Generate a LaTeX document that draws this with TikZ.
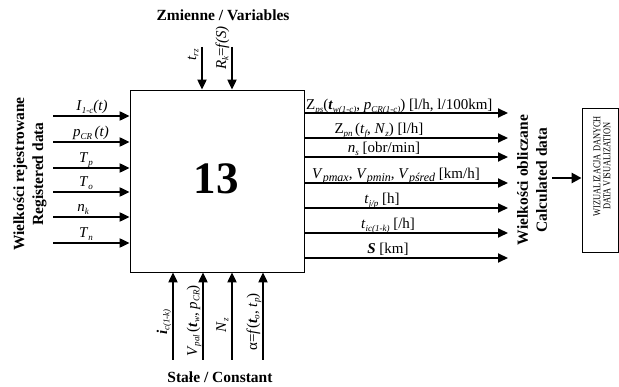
\documentclass[tikz,border=0pt]{standalone}
\usepackage{fontspec}
\usepackage{graphicx}
\setmainfont{Liberation Serif}
\usetikzlibrary{arrows.meta}
\newcommand{\lsub}[1]{\raisebox{-0.35ex}{\fontsize{9}{9}\selectfont\itshape #1}}
\newcommand{\msub}[1]{\raisebox{-0.3ex}{\fontsize{12}{12}\selectfont\itshape #1}}
\begin{document}
\begin{tikzpicture}[x=1pt,y=-1pt,
  arr/.style={line width=2pt,-{Triangle[length=10pt,width=9pt]}},
  lab/.style={font=\fontsize{15}{16}\selectfont,inner sep=0pt,anchor=base},
  vlab/.style={lab,rotate=90},
  ttl/.style={font=\fontsize{15.5}{19}\selectfont\bfseries,align=center,inner sep=0pt},
  vttl/.style={ttl,rotate=90}]
\useasboundingbox (0,0) rectangle (619,387);
% main box
\node[draw,line width=0.8pt,minimum width=174pt,minimum height=182pt,inner sep=0pt] (box) at (217,181) {};
\node[font=\fontsize{45}{45}\selectfont\bfseries,inner sep=0pt] (num) at (216,179) {13};
% titles
\node[ttl] (ttop) at (223,15) {Zmienne / Variables};
\node[ttl] (tbot) at (220,377) {Stałe / Constant};
\node[vttl] (tleft) at (30,174) {Wielkości rejestrowane\\Registered data};
\node[vttl] (tright) at (532,180) {Wielkości obliczane\\Calculated data};
% left inputs
\foreach \n/\y in {1/116,2/142,3/168,4/192,5/217,6/243}{
  \coordinate (L\n) at (53,\y);
  \draw[arr] (L\n) -- (L\n -| box.west);
}
\node[lab] (l1) at (92,111) {\textit{I}\lsub{1-c}\textit{(t)}};
\node[lab] (l2) at (91,137) {\textit{p}\lsub{CR}\,\textit{(t)}};
\node[lab] (l3) at (86,163) {\textit{T}\lsub{p}};
\node[lab] (l4) at (86,187) {\textit{T}\lsub{o}};
\node[lab] (l5) at (83,212) {\textit{n}\lsub{k}};
\node[lab] (l6) at (86,238) {\textit{T}\lsub{n}};
% top inputs
\coordinate (T1) at (202,47);
\coordinate (T2) at (232,47);
\draw[arr] (T1) -- (T1 |- box.north);
\draw[arr] (T2) -- (T2 |- box.north);
\node[vlab] (t1) at (196,55) {\textit{t}\lsub{rz}};
\node[vlab] (t2) at (226,48) {\textit{R}\lsub{k}=\textit{f(S)}};
% bottom inputs
\foreach \n/\x in {1/173,2/203,3/232,4/263}{
  \coordinate (B\n) at (\x,360);
  \draw[arr] (B\n) -- (B\n |- box.south);
}
\node[vlab] (b1) at (167,322) {\textbf{\textit{i}}\lsub{c(1-k)}};
\node[vlab] (b2) at (197,321) {\textit{V}\lsub{pal}\,(\textbf{\textit{t}}\lsub{w}, \textit{p}\lsub{CR})};
\node[vlab] (b3) at (226,325) {\textit{N}\lsub{z}};
\node[vlab] (b4) at (257,322) {α=\textit{f}(\textbf{\textit{t}}\lsub{o}, \textit{t}\lsub{p})};
% right outputs
\foreach \n/\y in {1/113,2/138,3/157,4/183,5/208,6/233,7/258}{
  \coordinate (R\n) at (508,\y);
  \draw[arr] (R\n -| box.east) -- (R\n);
}
\node[lab,anchor=base west] (r1) at (306,110) {Z\lsub{ps}(\textbf{\textit{t}}\lsub{w(1-c)}, \textit{p}\lsub{CR(1-c)}) [l/h, l/100km]};
\node[lab] (r2) at (379,134) {Z\lsub{pn}\,(\textit{t}\lsub{f}, \textit{N}\lsub{z}) [l/h]};
\node[lab] (r3) at (384,153) {\textit{n}\lsub{s} [obr/min]};
\node[lab] (r4) at (396,179) {\textit{V}\msub{pmax}, \textit{V}\msub{pmin}, \textit{V}\msub{pśred} [km/h]};
\node[lab] (r5) at (382,204) {\textit{t}\lsub{j/p} [h]};
\node[lab] (r6) at (388,229) {\textit{t}\lsub{ic(1-k)} [/h]};
\node[lab] (r7) at (388,254) {\textbf{\textit{S}} [km]};
% visualization
\node[draw,line width=0.8pt,minimum width=36pt,minimum height=144pt,inner sep=0pt] (vis) at (600,180) {};
\node[rotate=90,inner sep=0pt,align=center,font=\fontsize{10.5}{10}\selectfont] (vistext) at (602,166) {\scalebox{0.8}[1]{WIZUALIZACJA DANYCH}\\\scalebox{0.8}[1]{DATA VISUALIZATION}};
\coordinate (V0) at (552,178);
\draw[line width=2.5pt,-{Triangle[length=10pt,width=10pt]}] (V0) -- (V0 -| vis.west);
\end{tikzpicture}
\end{document}
